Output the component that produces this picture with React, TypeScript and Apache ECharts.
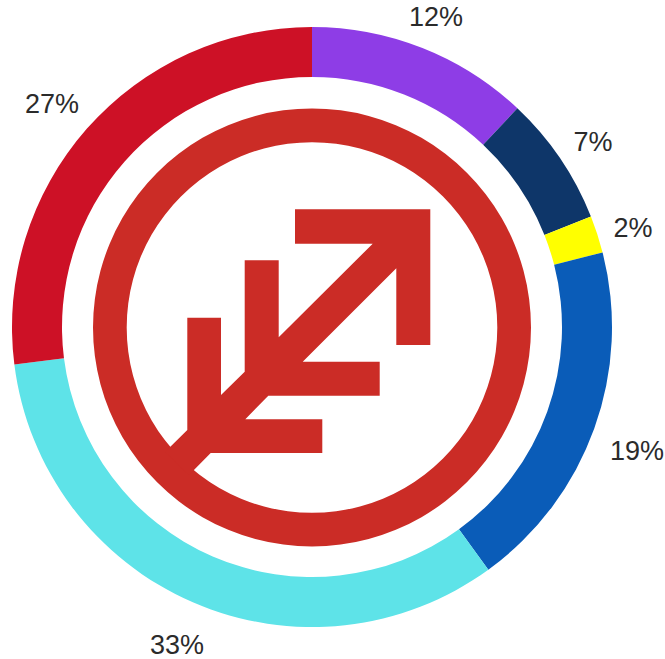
import React, { useEffect, useRef } from "react";
import * as echarts from "echarts";

const labels = ["12%", "7%", "2%", "19%", "33%", "27%"];
const values = [12, 7, 2, 19, 33, 27];
const colors = ["#8e3de6", "#0e3669", "#ffff00", "#0a5cb8", "#5ee3e8", "#cd1126"];
const labelCentres = [
  [436, 17],
  [593, 142],
  [633, 228],
  [637, 451],
  [177, 645],
  [52, 104],
];

const CX = 312;
const CY = 327;
const logoPoints = [
  [295, 209.3], [430.3, 209.3], [430.3, 345], [396.3, 345], [396.3, 268.3], [302.7, 361.7],
  [379.7, 361.7], [379.7, 395.7], [268.3, 395.7], [245.3, 419.3], [322.3, 419.3], [322.3, 453],
  [210.7, 453], [189, 475], [165, 452], [187.3, 430], [187.3, 317.7], [221, 317.7],
  [221, 395], [244.7, 371.7], [244.7, 260.3], [278.7, 260.3], [278.7, 337.3], [372.7, 243.7],
  [295, 243.7],
];

export default function App() {
  const ref = useRef<HTMLDivElement>(null);
  useEffect(() => {
    const chart = echarts.init(ref.current!, undefined, { renderer: "svg" });
    chart.setOption({
      animation: false,
      backgroundColor: "#ffffff",
      series: [
        {
          type: "pie",
          silent: true,
          center: [CX, CY],
          radius: [250, 300],
          startAngle: 90,
          clockwise: true,
          avoidLabelOverlap: false,
          data: values.map((v, i) => ({
            value: v,
            name: labels[i],
            itemStyle: { color: colors[i] },
          })),
          label: {
            show: true,
            formatter: "{b}",
            position: "outside",
            fontFamily: "Liberation Sans",
            fontSize: 27,
            color: "#2b2b2b",
            width: 80,
            overflow: "none",
          },
          labelLine: { show: false },
          labelLayout: (p: any) => ({
            x: labelCentres[p.dataIndex][0],
            y: labelCentres[p.dataIndex][1],
            align: "center",
            verticalAlign: "middle",
          }),
        },
      ],
      graphic: [
        {
          type: "ring",
          shape: { cx: CX, cy: CY + 0.5, r: 219, r0: 185.3 },
          style: { fill: "#cb2c26" },
        },
        {
          type: "polygon",
          shape: { points: logoPoints },
          style: { fill: "#cb2c26" },
        },
      ],
    });
    return () => chart.dispose();
  }, []);
  return <div ref={ref} style={{ position: "absolute", left: 0, top: 0, width: 665, height: 659 }} />;
}
